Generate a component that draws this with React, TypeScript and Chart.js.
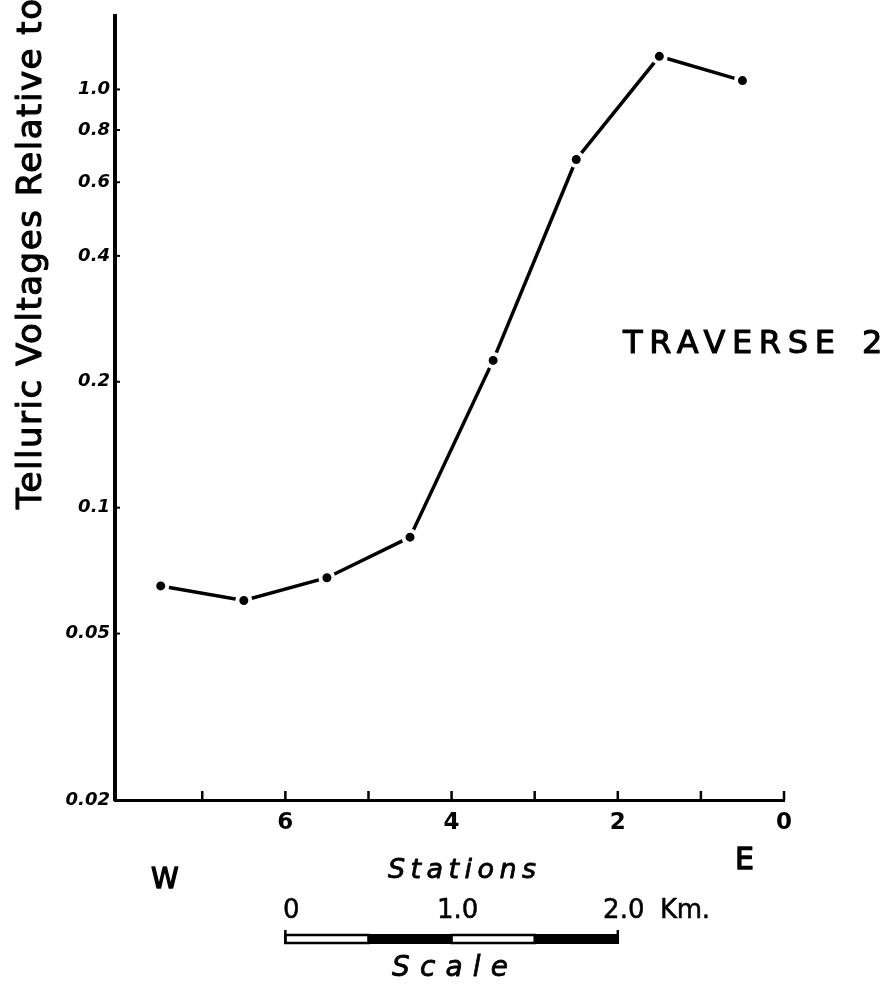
import React, { useEffect, useRef } from 'react';
import { Chart, registerables } from 'chart.js';

Chart.register(...registerables);

// ---- data ----
const stations = [7.5, 6.5, 5.5, 4.5, 3.5, 2.5, 1.5, 0.5];
const voltages = [0.065, 0.06, 0.068, 0.085, 0.225, 0.68, 1.2, 1.05];

const yTickValues = [0.02, 0.05, 0.1, 0.2, 0.4, 0.6, 0.8, 1.0];
const yTickLabels = ['0.02', '0.05', '0.1', '0.2', '0.4', '0.6', '0.8', '1.0'];
const xTickValues = [0, 1, 2, 3, 4, 5, 6, 7];
const xLabeledTicks = [0, 2, 4, 6];

const scaleBarKm = [0, 0.5, 1.0, 1.5, 2.0];
const scaleBarLabelKm = [0, 1, 2];
const scaleBarLabels = ['0', '1.0', '2.0'];
const kmPerStation = 0.5;
const scaleBarOriginStation = 6;

const yTitle = 'Telluric Voltages Relative to';
const xTitle = 'Stations';

const FONT = '"DejaVu Sans", "Liberation Sans", sans-serif';

function fitText(
  ctx: CanvasRenderingContext2D,
  text: string,
  x: number,
  y: number,
  width: number,
  font: string,
  weight = 0.9
) {
  ctx.save();
  ctx.font = font;
  (ctx as any).letterSpacing = '0px';
  const w = ctx.measureText(text).width;
  const n = text.length;
  const ls = n > 1 ? (width - w) / (n - 1) : 0;
  (ctx as any).letterSpacing = ls + 'px';
  ctx.textAlign = 'left';
  ctx.textBaseline = 'alphabetic';
  ctx.fillStyle = '#000';
  ctx.strokeStyle = '#000';
  ctx.lineWidth = weight;
  ctx.lineJoin = 'round';
  ctx.fillText(text, x, y);
  if (weight > 0) ctx.strokeText(text, x, y);
  ctx.restore();
}

const annotPlugin = {
  id: 'annot',
  afterDraw(chart: any) {
    const ctx: CanvasRenderingContext2D = chart.ctx;
    const xs = chart.scales.x;
    const ys = chart.scales.y;
    const area = chart.chartArea;
    ctx.save();
    ctx.fillStyle = '#000';
    ctx.strokeStyle = '#000';

    // inward tick marks on x axis
    ctx.lineWidth = 2.5;
    for (const v of xTickValues) {
      const px = xs.getPixelForValue(v);
      ctx.beginPath();
      ctx.moveTo(px, area.bottom);
      ctx.lineTo(px, area.bottom - 9);
      ctx.stroke();
    }
    // inward tick marks on y axis
    ctx.lineWidth = 2;
    for (const v of yTickValues) {
      const py = ys.getPixelForValue(v);
      if (Math.abs(py - area.bottom) < 2) continue;
      ctx.beginPath();
      ctx.moveTo(area.left, py);
      ctx.lineTo(area.left + 5, py);
      ctx.stroke();
    }

    // y title (rotated)
    ctx.save();
    ctx.translate(41, 253);
    ctx.rotate(-Math.PI / 2);
    fitText(ctx, yTitle, -256, 0, 510, `34px ${FONT}`, 1.1);
    ctx.restore();

    // TRAVERSE 2
    fitText(ctx, 'TRAVERSE', 623, 353, 212, `32px ${FONT}`, 1.1);
    fitText(ctx, '2', 862, 353, 22, `32px ${FONT}`, 1.1);

    // W / E and Stations
    fitText(ctx, 'W', 151, 888, 28, `28px ${FONT}`, 1.3);
    fitText(ctx, 'E', 735, 869, 22, `30px ${FONT}`, 1.3);
    fitText(ctx, xTitle, 388, 878, 148, `italic 27px ${FONT}`, 0.8);

    // scale bar
    const kmToPx = (km: number) => xs.getPixelForValue(scaleBarOriginStation - km / kmPerStation);
    const barTop = 934;
    const barH = 10;
    for (let i = 0; i < scaleBarKm.length - 1; i++) {
      const a = kmToPx(scaleBarKm[i]);
      const b = kmToPx(scaleBarKm[i + 1]);
      if (i % 2 === 0) {
        ctx.lineWidth = 2.5;
        ctx.strokeRect(a, barTop + 1, b - a, barH - 2);
      } else {
        ctx.fillRect(a, barTop, b - a, barH);
      }
    }
    ctx.lineWidth = 2.5;
    for (const km of [scaleBarKm[0], scaleBarKm[scaleBarKm.length - 1]]) {
      const p = kmToPx(km);
      ctx.beginPath();
      ctx.moveTo(p, barTop - 4);
      ctx.lineTo(p, barTop + barH);
      ctx.stroke();
    }
    scaleBarLabelKm.forEach((km, i) => {
      ctx.save();
      ctx.font = `26px ${FONT}`;
      const w = ctx.measureText(scaleBarLabels[i]).width;
      ctx.restore();
      fitText(ctx, scaleBarLabels[i], kmToPx(km) + 6 - w / 2, 918, w, `26px ${FONT}`, 0.5);
    });
    fitText(ctx, 'Km.', 660, 918, 50, `26px ${FONT}`, 0.5);
    fitText(ctx, 'Scale', 392, 976, 116, `italic 28px ${FONT}`, 0.8);

    ctx.restore();
  },
};

export default function App() {
  const ref = useRef<HTMLCanvasElement | null>(null);
  useEffect(() => {
    if (!ref.current) return;
    const chart = new Chart(ref.current, {
      type: 'line',
      data: {
        datasets: [
          {
            data: stations.map((s, i) => ({ x: s, y: voltages[i] })),
            borderColor: '#000',
            borderWidth: 3.5,
            pointRadius: 6.5,
            pointBorderWidth: 4,
            pointBackgroundColor: '#000',
            pointBorderColor: '#fff',
            tension: 0,
            clip: false,
          } as any,
        ],
      },
      options: {
        responsive: false,
        animation: false,
        devicePixelRatio: 1,
        layout: { padding: { left: 0, right: 107, top: 15, bottom: 0 } },
        plugins: { legend: { display: false }, tooltip: { enabled: false } },
        scales: {
          x: {
            type: 'linear',
            reverse: true,
            min: 0,
            max: 8.05,
            afterBuildTicks: (s: any) => {
              s.ticks = xTickValues.map((v) => ({ value: v }));
            },
            afterFit: (s: any) => {
              s.height = 185;
            },
            grid: { display: false, drawTicks: false },
            border: { display: true, color: '#000', width: 3 },
            ticks: {
              autoSkip: false,
              maxRotation: 0,
              padding: 9,
              color: '#000',
              font: { family: FONT, size: 23, weight: 'bold' },
              callback: (v: any) => (xLabeledTicks.includes(Number(v)) ? String(v) : ''),
            },
          },
          y: {
            type: 'logarithmic',
            min: 0.02,
            max: 1.5,
            afterBuildTicks: (s: any) => {
              s.ticks = yTickValues.map((v) => ({ value: v }));
            },
            afterFit: (s: any) => {
              s.width = 115;
            },
            grid: { display: false, drawTicks: false },
            border: { display: true, color: '#000', width: 4 },
            ticks: {
              autoSkip: false,
              padding: 5,
              color: '#000',
              font: { family: FONT, size: 18, style: 'italic', weight: 'bold' },
              callback: (v: any) => {
                const i = yTickValues.findIndex((t) => Math.abs(t - Number(v)) < 1e-9);
                return i >= 0 ? yTickLabels[i] : '';
              },
            },
          },
        },
      } as any,
      plugins: [annotPlugin],
    });
    return () => chart.destroy();
  }, []);
  return (
    <div style={{ position: 'fixed', left: 0, top: 0, width: 891, height: 985, background: '#fff' }}>
      <canvas ref={ref} width={891} height={985} style={{ display: 'block' }} />
    </div>
  );
}
